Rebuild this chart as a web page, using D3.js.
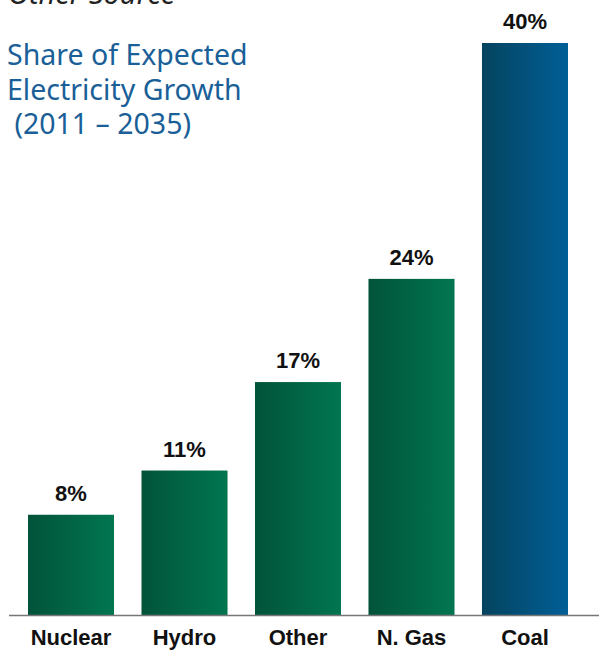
<!DOCTYPE html>
<html>
<head>
<meta charset="utf-8">
<script src="https://cdn.jsdelivr.net/npm/d3@7"></script>
<style>
    body { margin: 0; background: #fff; }
    svg { display: block; }
</style>
</head>
<body>
<div id="chart"></div>
<script>
// Data
const categories = ["Nuclear", "Hydro", "Other", "N. Gas", "Coal"];
const shares = [8, 11, 17, 24, 40];
const titleLines = ["Share of Expected", "Electricity Growth", " (2011 \u2013 2035)"];
const axisFloor = 1.2; // bars in the source do not start at zero

const width = 599, height = 650;
const margin = { top: 43, right: 31, bottom: 35, left: 28 };

const svg = d3.select("#chart").append("svg")
    .attr("width", width)
    .attr("height", height);

// Gradients
const defs = svg.append("defs");
const addGradient = (id, from, to) => {
    const g = defs.append("linearGradient").attr("id", id)
        .attr("x1", "0%").attr("x2", "100%").attr("y1", "0%").attr("y2", "0%");
    g.append("stop").attr("offset", "0%").attr("stop-color", from);
    g.append("stop").attr("offset", "100%").attr("stop-color", to);
};
addGradient("green", "#01533a", "#017650");
addGradient("blue", "#04435e", "#015f97");

const x = d3.scaleBand()
    .domain(categories)
    .range([margin.left, width - margin.right])
    .paddingInner(0.242)
    .paddingOuter(0);

const y = d3.scaleLinear()
    .domain([axisFloor, d3.max(shares)])
    .range([height - margin.bottom, margin.top]);

const data = categories.map((c, i) => ({ category: c, value: shares[i] }));

// Top cut-off caption
svg.append("text")
    .attr("x", 8)
    .attr("y", 4)
    .attr("font-family", "Noto Sans, sans-serif")
    .attr("font-style", "italic")
    .attr("font-size", 29)
    .attr("fill", "#222")
    .text("Other Source");

// Title
svg.append("g").selectAll("text")
    .data(titleLines)
    .join("text")
    .attr("x", 7)
    .attr("y", (d, i) => 65 + i * 34.5)
    .attr("xml:space", "preserve")
    .style("white-space", "pre")
    .attr("font-family", "Noto Sans, sans-serif")
    .attr("font-size", 28.5)
    .attr("fill", "#1a5f98")
    .text(d => d);

// Bars
svg.append("g")
    .selectAll("rect")
    .data(data)
    .join("rect")
    .attr("x", d => x(d.category))
    .attr("y", d => y(d.value))
    .attr("width", x.bandwidth())
    .attr("height", d => y(axisFloor) - y(d.value))
    .attr("fill", d => d.category === "Coal" ? "url(#blue)" : "url(#green)");

// Baseline
svg.append("line")
    .attr("x1", 9)
    .attr("x2", width)
    .attr("y1", y(axisFloor) + 0.5)
    .attr("y2", y(axisFloor) + 0.5)
    .attr("stroke", "#777")
    .attr("stroke-width", 1.5);

// Value labels
svg.append("g")
    .selectAll("text")
    .data(data)
    .join("text")
    .attr("x", d => x(d.category) + x.bandwidth() / 2)
    .attr("y", d => y(d.value) - 14)
    .attr("text-anchor", "middle")
    .attr("font-family", "Liberation Sans, Arial, sans-serif")
    .attr("font-weight", "bold")
    .attr("font-size", 22)
    .attr("fill", "#111")
    .text(d => d.value + "%");

// Category axis
const axis = svg.append("g")
    .attr("transform", `translate(0,${y(axisFloor)})`)
    .call(d3.axisBottom(x).tickSize(0).tickPadding(14));
axis.select(".domain").remove();
axis.selectAll("text")
    .attr("font-family", "Liberation Sans, Arial, sans-serif")
    .attr("font-weight", "bold")
    .attr("font-size", 22)
    .attr("fill", "#111");
</script>
</body>
</html>
